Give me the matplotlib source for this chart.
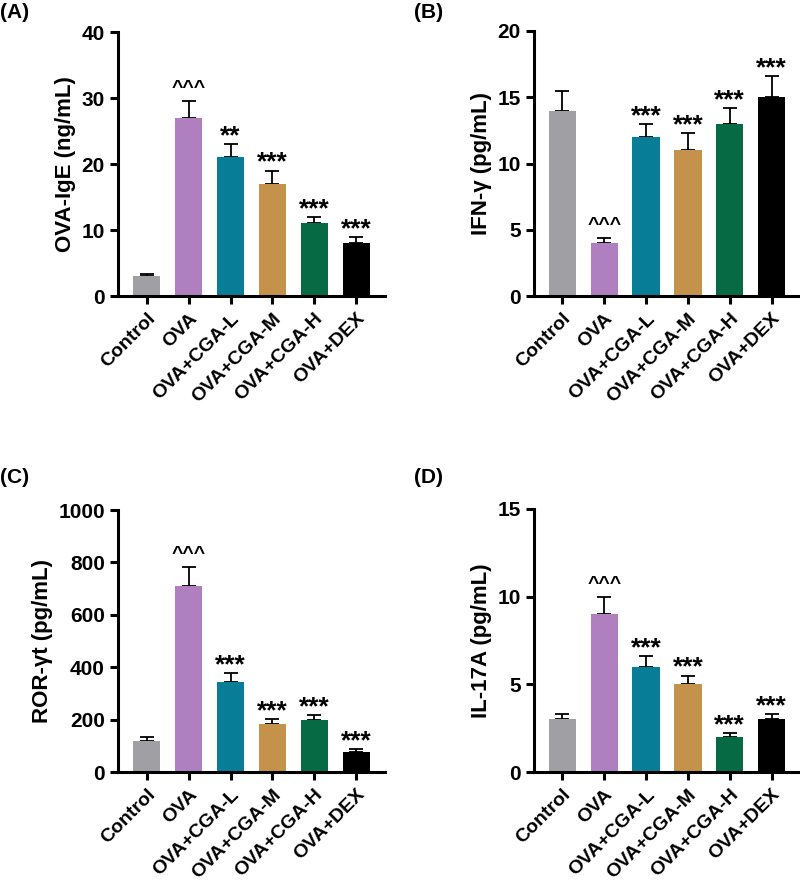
import matplotlib
matplotlib.use("Agg")
import matplotlib.pyplot as plt

plt.rcParams['font.family'] = ['Liberation Sans', 'DejaVu Sans']
plt.rcParams['font.weight'] = 'bold'

groups = ['Control', 'OVA', 'OVA+CGA-L', 'OVA+CGA-M', 'OVA+CGA-H', 'OVA+DEX']
colors = ['#a0a0a4', '#b07fc0', '#077d97', '#c4924a', '#066a45', '#000000']

ige_mean = [3, 27, 21, 17, 11, 8]
ige_err = [0.4, 2.5, 2.0, 2.0, 1.0, 0.9]
ige_sig = ['', '^^^', '**', '***', '***', '***']

ifn_mean = [14, 4, 12, 11, 13, 15]
ifn_err = [1.5, 0.4, 1.0, 1.3, 1.2, 1.6]
ifn_sig = ['', '^^^', '***', '***', '***', '***']

ror_mean = [120, 710, 342, 182, 198, 78]
ror_err = [13, 72, 35, 20, 20, 10]
ror_sig = ['', '^^^', '***', '***', '***', '***']

il17_mean = [3, 9, 6, 5, 2, 3]
il17_err = [0.3, 1.0, 0.6, 0.5, 0.2, 0.3]
il17_sig = ['', '^^^', '***', '***', '***', '***']

panels = [
    ('(A)', 'OVA-IgE (ng/mL)', ige_mean, ige_err, ige_sig, 40, 10),
    ('(B)', 'IFN-γ (pg/mL)', ifn_mean, ifn_err, ifn_sig, 20, 5),
    ('(C)', 'ROR-γt (pg/mL)', ror_mean, ror_err, ror_sig, 1000, 200),
    ('(D)', 'IL-17A (pg/mL)', il17_mean, il17_err, il17_sig, 15, 5),
]

W, H = 800, 885
fig = plt.figure(figsize=(W / 100, H / 100), dpi=100)

# axes boxes in pixels: left, top, right, bottom
boxes = [(118, 32, 385, 296), (534, 31, 800, 296),
         (118, 510, 385, 772), (534, 509, 800, 772)]
label_pos = [(0, 12), (414, 12), (0, 477), (414, 477)]

for (lab, ylab, mean, err, sig, ymax, step), box, lp in zip(panels, boxes, label_pos):
    l, t, r, b = box
    ax = fig.add_axes([l / W, 1 - b / H, (r - l) / W, (b - t) / H])
    x = list(range(len(groups)))
    ax.bar(x, mean, width=0.65, color=colors, zorder=2)
    ax.errorbar(x, mean, yerr=[[0] * len(err), err], fmt='none', ecolor='black',
                elinewidth=1.3, capsize=5, capthick=1.3, zorder=1)
    for xi, m, e, s in zip(x, mean, err, sig):
        if s.startswith('^'):
            ax.annotate(s, (xi, m + e), xytext=(0, 3), textcoords='offset points',
                        ha='center', va='bottom', fontsize=14, fontweight='bold')
        elif s:
            ax.annotate(s, (xi, m + e), xytext=(0, -3), textcoords='offset points',
                        ha='center', va='bottom', fontsize=19, fontweight='bold')
    ax.set_xlim(-0.68, 5.68)
    ax.set_ylim(0, ymax)
    ax.set_yticks(range(0, ymax + 1, step))
    ax.set_xticks(x)
    ax.set_xticklabels(groups, rotation=45, ha='right', rotation_mode='anchor')
    ax.set_ylabel(ylab, fontsize=16, fontweight='bold', labelpad=4)
    for sp in ['top', 'right']:
        ax.spines[sp].set_visible(False)
    for sp in ['left', 'bottom']:
        ax.spines[sp].set_linewidth(2.2)
    ax.tick_params(axis='both', width=2.2, length=6, labelsize=15)
    ax.tick_params(axis='x', pad=4, labelsize=14)
    fig.text(lp[0] / W, 1 - lp[1] / H, lab, fontsize=15, fontweight='bold',
             ha='left', va='center')

fig.savefig('out.png', dpi=100)
